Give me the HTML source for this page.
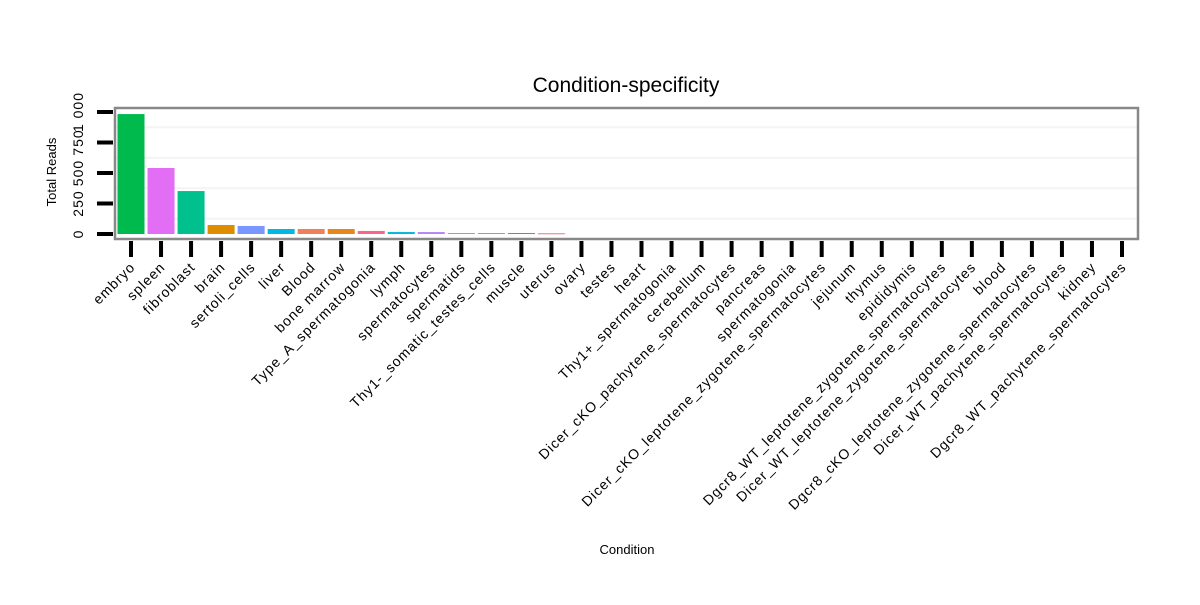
<!DOCTYPE html>
<html><head><meta charset="utf-8"><style>
body{margin:0;background:#fff;font-family:"Liberation Sans",sans-serif}
</style></head><body>
<svg id="chart" width="1200" height="600">
<text x="626" y="92" font-size="21" text-anchor="middle">Condition-specificity</text>
<text x="56" y="172" font-size="13" text-anchor="middle" transform="rotate(-90 56 172)">Total Reads</text>
<text x="627" y="554" font-size="13" text-anchor="middle">Condition</text>
<g id="grid"></g><g id="bars"></g><g id="axes"></g>
<rect x="115" y="108" width="1023" height="131" fill="none" stroke="#888" stroke-width="2.5"/>
</svg>
<script>
const categories=["embryo","spleen","fibroblast","brain","sertoli_cells","liver","Blood","bone marrow","Type_A_spermatogonia","lymph","spermatocytes","spermatids","Thy1-_somatic_testes_cells","muscle","uterus","ovary","testes","heart","Thy1+_spermatogonia","cerebellum","Dicer_cKO_pachytene_spermatocytes","pancreas","spermatogonia","Dicer_cKO_leptotene_zygotene_spermatocytes","jejunum","thymus","epididymis","Dgcr8_WT_leptotene_zygotene_spermatocytes","Dicer_WT_leptotene_zygotene_spermatocytes","blood","Dgcr8_cKO_leptotene_zygotene_spermatocytes","Dicer_WT_pachytene_spermatocytes","kidney","Dgcr8_WT_pachytene_spermatocytes"];
const values=[983,541,352,74,66,41,41,41,25,16,16,8,8,8,6,0,0,0,0,0,0,0,0,0,0,0,0,0,0,0,0,0,0,0];
const colors=["#00BA4E","#E36EF6","#00C08D","#DE8C00","#7997FF","#00B8E3","#F07F5A","#E6861D","#F8658E","#00B7DC","#B983FF","#A58AFF","#E868E0","#00B0E0","#F0727A","#999","#999","#999","#999","#999","#999","#999","#999","#999","#999","#999","#999","#999","#999","#999","#999","#999","#999","#999"];
const yTicks=[0,250,500,750,1000];
const NS="http://www.w3.org/2000/svg";
const x=i=>131+i*30.03;
const y=v=>234-v*0.122;
function mk(t,a,p){const e=document.createElementNS(NS,t);for(const k in a)e.setAttribute(k,a[k]);p.appendChild(e);return e;}
const g=document.getElementById('grid'),b=document.getElementById('bars'),ax=document.getElementById('axes');
yTicks.forEach((t,i)=>{
  if(i<yTicks.length-1){const gl=mk('line',{x1:116,x2:1137,y1:y(t+125),y2:y(t+125),stroke:'#f4f4f4','stroke-width':2},g);
  
  }
  const tk=mk('line',{x1:97,x2:113,y1:y(t),y2:y(t),stroke:'#000','stroke-width':4},ax);
  
  
  const tl=mk('text',{x:83,y:y(t),'font-size':14,'letter-spacing':1,'text-anchor':'middle',transform:`rotate(-90 83 ${y(t)})`},ax);
  tl.textContent=t===1000?'1 000':String(t);
  
  
});
categories.forEach((c,i)=>{
  if(values[i]>0){const r=mk('rect',{x:x(i)-13.5,y:y(values[i]),width:27,height:Math.max(1,234-y(values[i])),fill:colors[i]},b);
  
  }
  const tk=mk('line',{x1:x(i),x2:x(i),y1:241,y2:257,stroke:'#000','stroke-width':4},ax);
  
  
  const tl=mk('text',{x:x(i)+5,y:268,'font-size':14,'letter-spacing':1,'text-anchor':'end',transform:`rotate(-45 ${x(i)+5} 268)`},ax);
  tl.textContent=c;
  
  
});
</script>
</body></html>
